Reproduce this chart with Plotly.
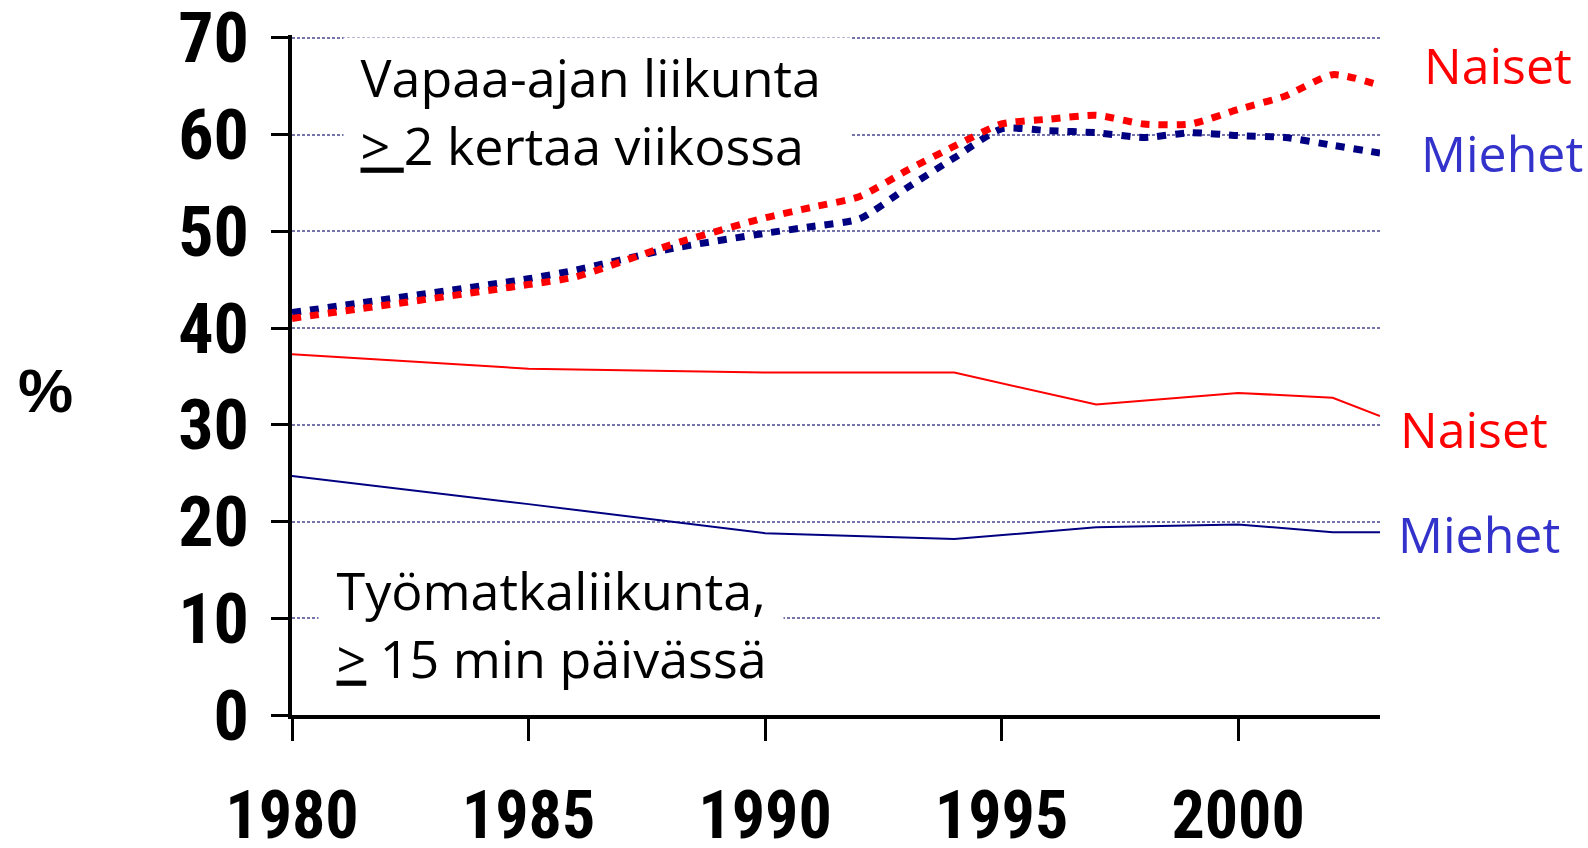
import plotly.graph_objects as go

# Leisure-time activity (>= 2 times a week), smoothed dotted lines
years_leisure = [1980, 1985, 1986, 1988, 1990, 1991, 1992, 1993, 1994, 1995, 1996, 1997, 1998, 1999, 2000, 2001, 2002, 2003]
leisure_women = [41.0, 44.5, 45.3, 48.6, 51.4, 52.5, 53.6, 56.3, 58.8, 61.1, 61.6, 62.0, 61.1, 61.1, 62.6, 64.0, 66.2, 65.1]
leisure_men = [41.6, 45.1, 46.0, 48.2, 49.8, 50.5, 51.3, 54.5, 57.6, 60.6, 60.4, 60.2, 59.7, 60.2, 59.9, 59.7, 58.9, 58.1]

# Commuting activity (>= 15 min a day), solid lines
years_commute = [1980, 1985, 1990, 1994, 1997, 2000, 2002, 2003]
commute_women = [37.3, 35.8, 35.4, 35.4, 32.1, 33.3, 32.8, 30.9]
commute_men = [24.7, 21.8, 18.8, 18.2, 19.4, 19.7, 18.9, 18.9]

x_ticks = [1980, 1985, 1990, 1995, 2000]
y_ticks = [0, 10, 20, 30, 40, 50, 60, 70]

RED = "#FF0000"
NAVY = "#000080"
LBLUE = "#3333CC"
TXT_FONT = "Open Sans, Noto Sans, Liberation Sans, sans-serif"
NUM_FONT = "Liberation Sans Narrow, Arial Narrow, Roboto Condensed, Liberation Sans, sans-serif"

fig = go.Figure()
fig.add_trace(go.Scatter(x=years_commute, y=commute_women, mode="lines",
                         line=dict(color=RED, width=2), name="Naiset työmatka"))
fig.add_trace(go.Scatter(x=years_commute, y=commute_men, mode="lines",
                         line=dict(color=NAVY, width=2), name="Miehet työmatka"))
fig.add_trace(go.Scatter(x=years_leisure, y=leisure_men, mode="lines",
                         line=dict(color=NAVY, width=7, dash="9px,9px", shape="spline", smoothing=0.6),
                         name="Miehet vapaa-aika"))
fig.add_trace(go.Scatter(x=years_leisure, y=leisure_women, mode="lines",
                         line=dict(color=RED, width=7, dash="9px,9px", shape="spline", smoothing=0.6),
                         name="Naiset vapaa-aika"))

fig.update_layout(
    width=1588, height=848,
    margin=dict(l=292, r=208, t=34.6, b=133, autoexpand=False),
    paper_bgcolor="white", plot_bgcolor="white",
    showlegend=False,
    xaxis=dict(range=[1980, 2003], tickmode="array", tickvals=x_ticks,
               ticktext=[str(v) for v in x_ticks],
               showgrid=False, zeroline=False, automargin=False,
               showline=True, linecolor="black", linewidth=4,
               ticks="outside", ticklen=22, tickwidth=3, tickcolor="black",
               tickfont=dict(family=NUM_FONT, size=66, color="black", weight="bold"),
               ticklabelstandoff=18, ticklabeloverflow="allow"),
    yaxis=dict(range=[0, 70.3], tickmode="array", tickvals=y_ticks,
               ticktext=[str(v) for v in y_ticks],
               showgrid=True, gridcolor="#7474AA", gridwidth=1.5, griddash="3px,2px",
               zeroline=False, automargin=False,
               showline=True, linecolor="black", linewidth=4,
               ticks="outside", ticklen=17, tickwidth=3, tickcolor="black",
               tickfont=dict(family=NUM_FONT, size=70, color="black", weight="bold"),
               ticklabelstandoff=8, ticklabeloverflow="allow"),
)

annotations = [
    dict(text="&nbsp;Vapaa-ajan liikunta&nbsp;&nbsp;<br>&nbsp;<u>&gt;&nbsp;</u>2 kertaa viikossa",
         x=1981.08, y=62.52, xref="x", xanchor="left", align="left",
         font=dict(family=TXT_FONT, size=52, color="black"),
         bgcolor="white", borderpad=3),
    dict(text="&nbsp;Työmatkaliikunta,&nbsp;<br>&nbsp;<u>&gt;</u>&nbsp;15 min päivässä",
         x=1980.55, y=9.42, xref="x", xanchor="left", align="left",
         font=dict(family=TXT_FONT, size=52, color="black"),
         bgcolor="white", borderpad=4),
    dict(text="Naiset", x=1.1084, y=67.25, font=dict(family=TXT_FONT, size=50, color=RED)),
    dict(text="Miehet", x=1.1120, y=58.06, font=dict(family=TXT_FONT, size=50, color=LBLUE)),
    dict(text="Naiset", x=1.0864, y=29.55, font=dict(family=TXT_FONT, size=50, color=RED)),
    dict(text="Miehet", x=1.0910, y=18.7, font=dict(family=TXT_FONT, size=50, color=LBLUE)),
]
for a in annotations:
    a.setdefault("xref", "paper")
    a.setdefault("yref", "y")
    a.setdefault("showarrow", False)
    a.setdefault("xanchor", "center")
    a.setdefault("yanchor", "middle")
    fig.add_annotation(**a)

fig.add_annotation(text="%", xref="paper", yref="y", x=-0.2265, y=33.5,
                   showarrow=False, xanchor="center", yanchor="middle",
                   font=dict(family="Liberation Sans, Arial, sans-serif", size=62,
                             color="black", weight="bold"))

fig.write_html("out.html",
               config={"displayModeBar": False},
               post_script="document.body.style.margin='0px';document.body.style.overflow='hidden';")
